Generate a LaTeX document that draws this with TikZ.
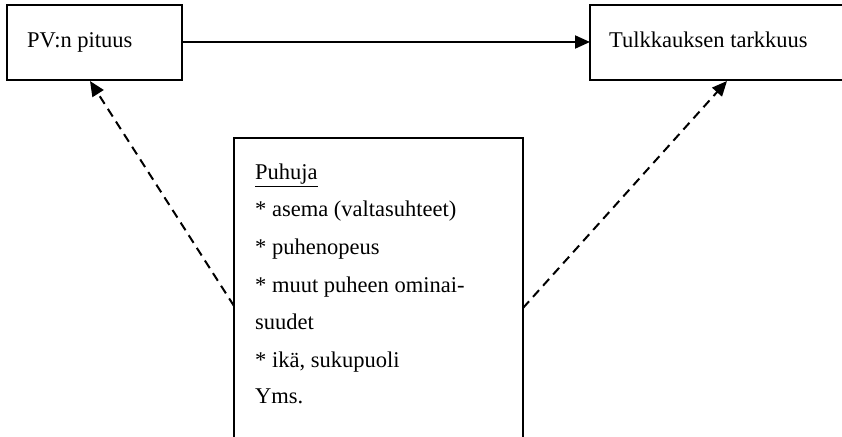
\documentclass[tikz,border=0pt]{standalone}
\usepackage{fontspec}
\setmainfont{Liberation Serif}
\usetikzlibrary{arrows.meta}
\begin{document}
\begin{tikzpicture}[x=1bp,y=-1bp,
  frame/.style={draw=black,line width=1.6bp},
  label/.style={anchor=base west,inner sep=0pt,font=\fontsize{22.5bp}{26bp}\selectfont},
  link/.style={line width=2bp,-{Triangle[length=15bp,width=13bp]}},
  dashlink/.style={link,dash pattern=on 9bp off 6bp}]
\useasboundingbox (0,0) rectangle (842,437);
\clip (0,0) rectangle (842,437);
% top boxes and the middle box (cut off by the page edge)
\draw[frame] (7,5) rectangle (182,80);
\draw[frame] (590,5) rectangle (860,80);
\draw[frame] (234,460) -- (234,138) -- (523,138) -- (523,460);
\coordinate (lenR) at (182,42);
\coordinate (accL) at (590,42);
\coordinate (lenB) at (90,81);
\coordinate (accB) at (727,81);
\coordinate (spkL) at (234,306);
\coordinate (spkR) at (523,308);
% texts
\node[label] (len) at (27,48) {PV:n pituus};
\node[label] (acc) at (609,48) {Tulkkauksen tarkkuus};
\node[label] (t1) at (255,180) {\underline{Puhuja}};
\node[label] (t2) at (255,217) {* asema (valtasuhteet)};
\node[label] (t3) at (255,255) {* puhenopeus};
\node[label] (t4) at (255,293) {* muut puheen ominai-};
\node[label] (t5) at (255,330) {suudet};
\node[label] (t6) at (255,368) {* ikä, sukupuoli};
\node[label] (t7) at (255,403) {Yms.};
% connectors
\draw[link] (lenR) -- (accL);
\draw[dashlink] (spkL) -- (lenB);
\draw[dashlink] (spkR) -- (accB);
\end{tikzpicture}
\end{document}
